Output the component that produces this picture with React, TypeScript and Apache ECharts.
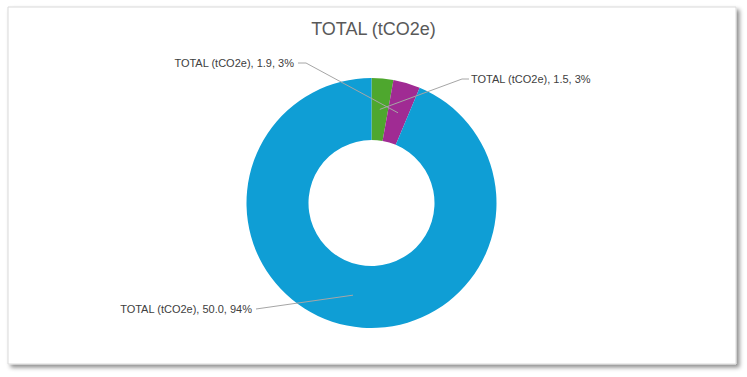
import React, { useEffect, useRef } from "react";
import * as echarts from "echarts";

const titleText = "TOTAL (tCO2e)";
const categories = ["TOTAL (tCO2e)", "TOTAL (tCO2e)", "TOTAL (tCO2e)"];
const values = [1.5, 1.86, 50.0];
const colors = ["#4EA72E", "#A02B93", "#0F9ED5"];

const CX = 371.5;
const CY = 203;
const R0 = 63;
const R1 = 125;
// label anchor positions (x, y, align)
const labelPos: [number, number, "left" | "right"][] = [
  [471, 79, "left"],
  [294, 63, "right"],
  [252, 309, "right"],
];

export default function App() {
  const ref = useRef<HTMLDivElement>(null);
  useEffect(() => {
    if (!ref.current) return;
    const chart = echarts.init(ref.current, null, { renderer: "svg" });
    const total = values.reduce((a, b) => a + b, 0);
    const midPoint = (i: number) => {
      let before = 0;
      for (let k = 0; k < i; k++) before += values[k];
      const frac = (before + values[i] / 2) / total;
      const ang = frac * Math.PI * 2;
      const rm = (R0 + R1) / 2;
      return [CX + rm * Math.sin(ang), CY - rm * Math.cos(ang)];
    };
    const leaderLines = values.map((_, i) => {
      const [x, y, align] = labelPos[i];
      const m = midPoint(i);
      const end = align === "right" ? x + 4 : x - 2;
      const bend = align === "right" ? x + 12 : x - 9;
      const pts = i === 2 ? [m, [end, y]] : [m, [bend, y], [end, y]];
      return {
        type: "polyline",
        z: 10,
        silent: true,
        shape: { points: pts },
        style: { stroke: "#a6a6a6", lineWidth: 1, fill: null },
      };
    });
    chart.setOption({
      animation: false,
      backgroundColor: "#ffffff",
      graphic: [
        {
          type: "rect",
          z: -10,
          shape: { x: 8, y: 7, width: 728, height: 357 },
          style: {
            fill: "#ffffff",
            stroke: "#d9d9d9",
            lineWidth: 1,
            shadowBlur: 4,
            shadowOffsetX: 3,
            shadowOffsetY: 3,
            shadowColor: "rgba(0,0,0,0.45)",
          },
          silent: true,
        },
        ...leaderLines,
      ],
      title: {
        text: titleText,
        left: "center",
        top: 15,
        textStyle: {
          fontFamily: "Liberation Sans, Arial, sans-serif",
          fontSize: 18,
          fontWeight: "normal",
          color: "#595959",
        },
      },
      series: [
        {
          type: "pie",
          center: [CX, CY],
          radius: [R0, R1],
          startAngle: 90,
          clockwise: true,
          avoidLabelOverlap: false,
          label: {
            show: true,
            fontFamily: "Liberation Sans, Arial, sans-serif",
            fontSize: 11,
            color: "#404040",
            formatter: (p: any) =>
              `${p.name}, ${Number(p.value).toFixed(1)}, ${Math.round(p.percent)}%`,
          },
          labelLine: { show: false },
          labelLayout: (params: any) => {
            const i = params.dataIndex;
            const [x, y, align] = labelPos[i];
            return { x, y, align, verticalAlign: "middle" };
          },
          data: categories.map((name, i) => ({
            name,
            value: values[i],
            itemStyle: { color: colors[i], borderWidth: 0 },
          })),
        },
      ],
    });
    return () => chart.dispose();
  }, []);
  return (
    <div
      ref={ref}
      style={{ position: "fixed", left: 0, top: 0, width: 747, height: 377 }}
    />
  );
}
